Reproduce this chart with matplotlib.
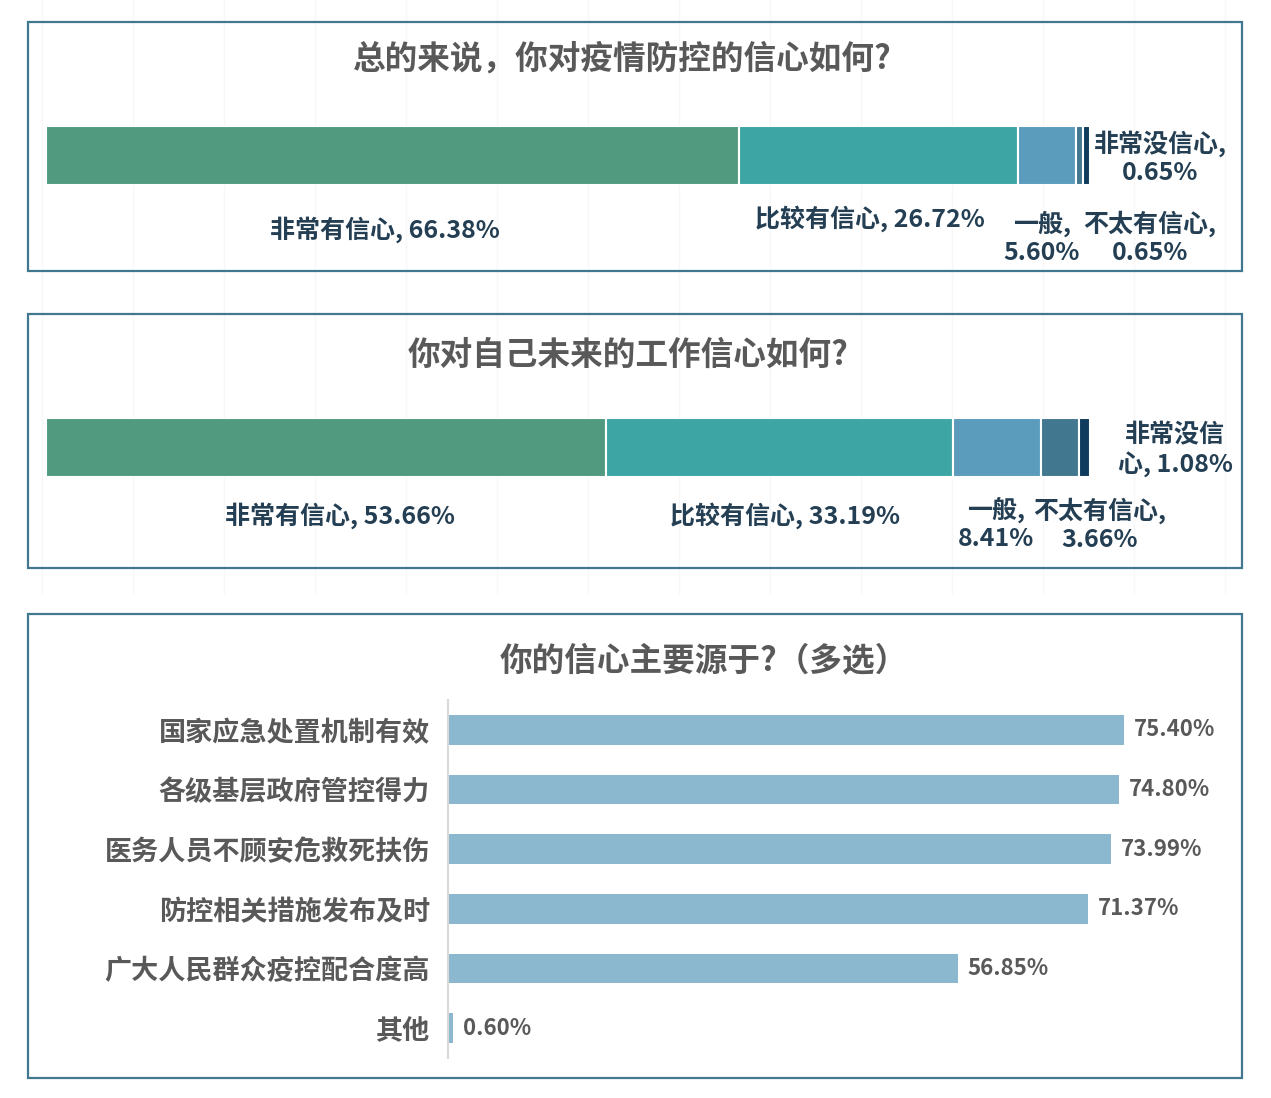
import numpy as np
import matplotlib
matplotlib.use("Agg")
import matplotlib.pyplot as plt
from matplotlib.patches import Rectangle

plt.rcParams['font.family'] = ['Noto Sans CJK SC', 'DejaVu Sans']

# ---- data ----
levels = ['非常有信心', '比较有信心', '一般', '不太有信心', '非常没信心']
epidemic_pct = [66.38, 26.72, 5.60, 0.65, 0.65]
work_pct = [53.66, 33.19, 8.41, 3.66, 1.08]

sources = ['国家应急处置机制有效', '各级基层政府管控得力', '医务人员不顾安危救死扶伤',
           '防控相关措施发布及时', '广大人民群众疫控配合度高', '其他']
source_pct = [75.40, 74.80, 73.99, 71.37, 56.85, 0.60]

titles = ['总的来说，你对疫情防控的信心如何?', '你对自己未来的工作信心如何?', '你的信心主要源于?（多选）']

seg_colors = ['#519a7f', '#3ea5a5', '#5b9bbc', '#41788f', '#0f3b5c']
label_col = '#243f53'
gray = '#595959'
frame_col = '#41788f'

W, H = 1271, 1098
fig = plt.figure(figsize=(W / 100, H / 100), dpi=100)
fig.patch.set_facecolor('white')


def fx(x):
    return x / W


def fy(y):
    return 1 - y / H


def px_axes(x0, y0, x1, y1, **kw):
    return fig.add_axes([fx(x0), fy(y1), (x1 - x0) / W, (y1 - y0) / H], **kw)


# faint background grid
bg = px_axes(0, 0, W, H)
bg.set_xlim(0, W)
bg.set_ylim(H, 0)
bg.axis('off')
for gx in np.arange(42, 1240, 91):
    bg.plot([gx, gx], [0, 593], color='#f7f7f7', lw=1, zorder=0)

# frames
for (y0, y1) in [(22, 271), (314, 568), (614, 1078)]:
    fig.patches.append(Rectangle((fx(28), fy(y1)), (1242 - 28) / W, (y1 - y0) / H,
                                 transform=fig.transFigure, fill=False,
                                 edgecolor=frame_col, lw=1.6, zorder=5))

# titles
title_kw = dict(ha='center', va='center', fontsize=23.5, fontweight='bold', color=gray)
fig.text(fx(622), fy(59), titles[0], **title_kw)
fig.text(fx(628), fy(355), titles[1], **title_kw)
fig.text(fx(704), fy(661), titles[2], **title_kw)


def stacked(y_top, vals):
    ax = px_axes(46, y_top, 1090, y_top + 59)
    ax.set_xlim(0, 100)
    ax.set_ylim(0, 1)
    ax.axis('off')
    left = 0
    for v, c in zip(vals, seg_colors):
        ax.barh(0.5, v, left=left, height=1, color=c, edgecolor='white', lw=1.5)
        left += v
    return ax


stacked(126, epidemic_pct)
stacked(418, work_pct)

lab_kw = dict(ha='center', va='center', fontsize=18, fontweight='bold', color=label_col,
              linespacing=1.2)

# chart 1 labels
fig.text(fx(385), fy(230), f'{levels[0]}, {epidemic_pct[0]:.2f}%', **lab_kw)
fig.text(fx(870), fy(219), f'{levels[1]}, {epidemic_pct[1]:.2f}%', **lab_kw)
fig.text(fx(1042), fy(238), f'{levels[2]},\n{epidemic_pct[2]:.2f}%', **lab_kw)
fig.text(fx(1150), fy(238), f'{levels[3]},\n{epidemic_pct[3]:.2f}%', **lab_kw)
fig.text(fx(1160), fy(158), f'{levels[4]},\n{epidemic_pct[4]:.2f}%', **lab_kw)

# chart 2 labels
fig.text(fx(340), fy(516), f'{levels[0]}, {work_pct[0]:.2f}%', **lab_kw)
fig.text(fx(785), fy(516), f'{levels[1]}, {work_pct[1]:.2f}%', **lab_kw)
fig.text(fx(996), fy(524), f'{levels[2]},\n{work_pct[2]:.2f}%', **lab_kw)
fig.text(fx(1100), fy(525), f'{levels[3]},\n{work_pct[3]:.2f}%', **lab_kw)
fig.text(fx(1175), fy(450), f'{levels[4][:4]}\n{levels[4][4:]}, {work_pct[4]:.2f}%', **lab_kw)

# chart 3: horizontal bars
scale = 676 / 75.4  # px per percent
ax3 = px_axes(448, 700, 1235, 1058)
ax3.set_xlim(0, (1235 - 448) / scale)
n = len(sources)
ypos = np.arange(n)
ax3.set_ylim(n - 0.5, -0.5)
ax3.barh(ypos, source_pct, height=0.5, color='#8bb8cf')
for y, v in zip(ypos, source_pct):
    ax3.text(v + 10 / scale, y, f'{v:.2f}%', va='center', ha='left', fontsize=16,
             fontweight='bold', color=gray)
ax3.set_yticks(ypos)
ax3.set_yticklabels(sources, fontsize=19.5, fontweight='bold', color=gray)
ax3.tick_params(axis='y', length=0, pad=13)
ax3.set_xticks([])
for s in ['top', 'right', 'bottom']:
    ax3.spines[s].set_visible(False)
ax3.spines['left'].set_color('#d9d9d9')
ax3.spines['left'].set_linewidth(1.5)
ax3.patch.set_alpha(0)

fig.savefig('out.png', dpi=100, facecolor='white')
